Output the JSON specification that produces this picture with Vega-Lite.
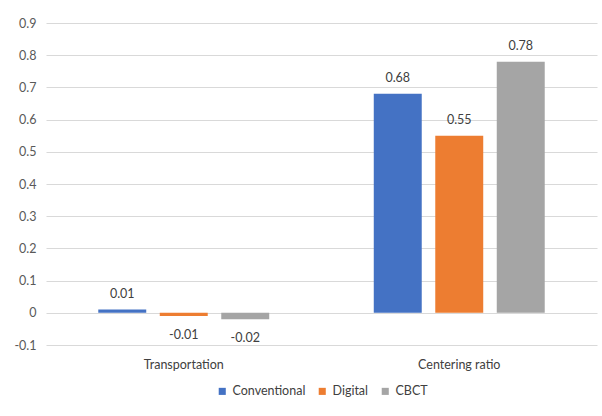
{
  "$schema": "https://vega.github.io/schema/vega-lite/v6.json",
  "width": 551,
  "height": 322,
  "autosize": {"type": "none"},
  "padding": {"left": 46, "top": 23, "right": 5, "bottom": 71},
  "background": "white",
  "config": {
    "font": "Lato",
    "view": {"stroke": null},
    "axis": {"labelFont": "Lato", "labelFontSize": 12.5, "labelColor": "#404040"}
  },
  "data": {
    "values": [
      {"measure": "Transportation", "method": "Conventional", "value": 0.01},
      {"measure": "Transportation", "method": "Digital", "value": -0.01},
      {"measure": "Transportation", "method": "CBCT", "value": -0.02},
      {"measure": "Centering ratio", "method": "Conventional", "value": 0.68},
      {"measure": "Centering ratio", "method": "Digital", "value": 0.55},
      {"measure": "Centering ratio", "method": "CBCT", "value": 0.78}
    ]
  },
  "transform": [{"calculate": "toString(datum.value)", "as": "label"}],
  "encoding": {
    "x": {
      "field": "measure",
      "type": "nominal",
      "sort": ["Transportation", "Centering ratio"],
      "scale": {"paddingInner": 0, "paddingOuter": 0},
      "axis": {"title": null, "labelAngle": 0, "ticks": false, "domain": false, "labelPadding": 13}
    },
    "xOffset": {
      "field": "method",
      "type": "nominal",
      "sort": ["Conventional", "Digital", "CBCT"],
      "scale": {"paddingInner": 0.22, "paddingOuter": 0.85}
    },
    "y": {
      "field": "value",
      "type": "quantitative",
      "scale": {"domain": [-0.1, 0.9], "nice": false, "zero": false},
      "axis": {
        "title": null,
        "values": [-0.1, 0, 0.1, 0.2, 0.3, 0.4, 0.5, 0.6, 0.7, 0.8, 0.9],
        "labelExpr": "toString(datum.value)",
        "ticks": false,
        "domain": false,
        "labelPadding": 10,
        "gridColor": "#D9D9D9",
        "gridWidth": 1,
        "labelColor": "#595959"
      }
    }
  },
  "layer": [
    {
      "mark": {"type": "bar"},
      "encoding": {
        "y2": {"datum": 0},
        "color": {
          "field": "method",
          "type": "nominal",
          "scale": {"domain": ["Conventional", "Digital", "CBCT"], "range": ["#4472C4", "#ED7D31", "#A5A5A5"]},
          "legend": {
            "title": null,
            "orient": "none",
            "legendX": 170,
            "legendY": 362,
            "direction": "horizontal",
            "symbolType": "square",
            "symbolSize": 50,
            "symbolStrokeWidth": 0,
            "labelOffset": 4,
            "labelFont": "Lato",
            "labelFontSize": 12.5,
            "labelColor": "#404040",
            "columnPadding": 10
          }
        }
      }
    },
    {
      "transform": [{"filter": "datum.value >= 0"}],
      "mark": {"type": "text", "baseline": "middle", "dy": -16, "fontSize": 12.5, "color": "#404040"},
      "encoding": {"text": {"field": "label", "type": "nominal"}}
    },
    {
      "transform": [{"filter": "datum.value < 0"}],
      "mark": {"type": "text", "baseline": "middle", "dy": 19, "fontSize": 12.5, "color": "#404040"},
      "encoding": {"text": {"field": "label", "type": "nominal"}}
    }
  ]
}
